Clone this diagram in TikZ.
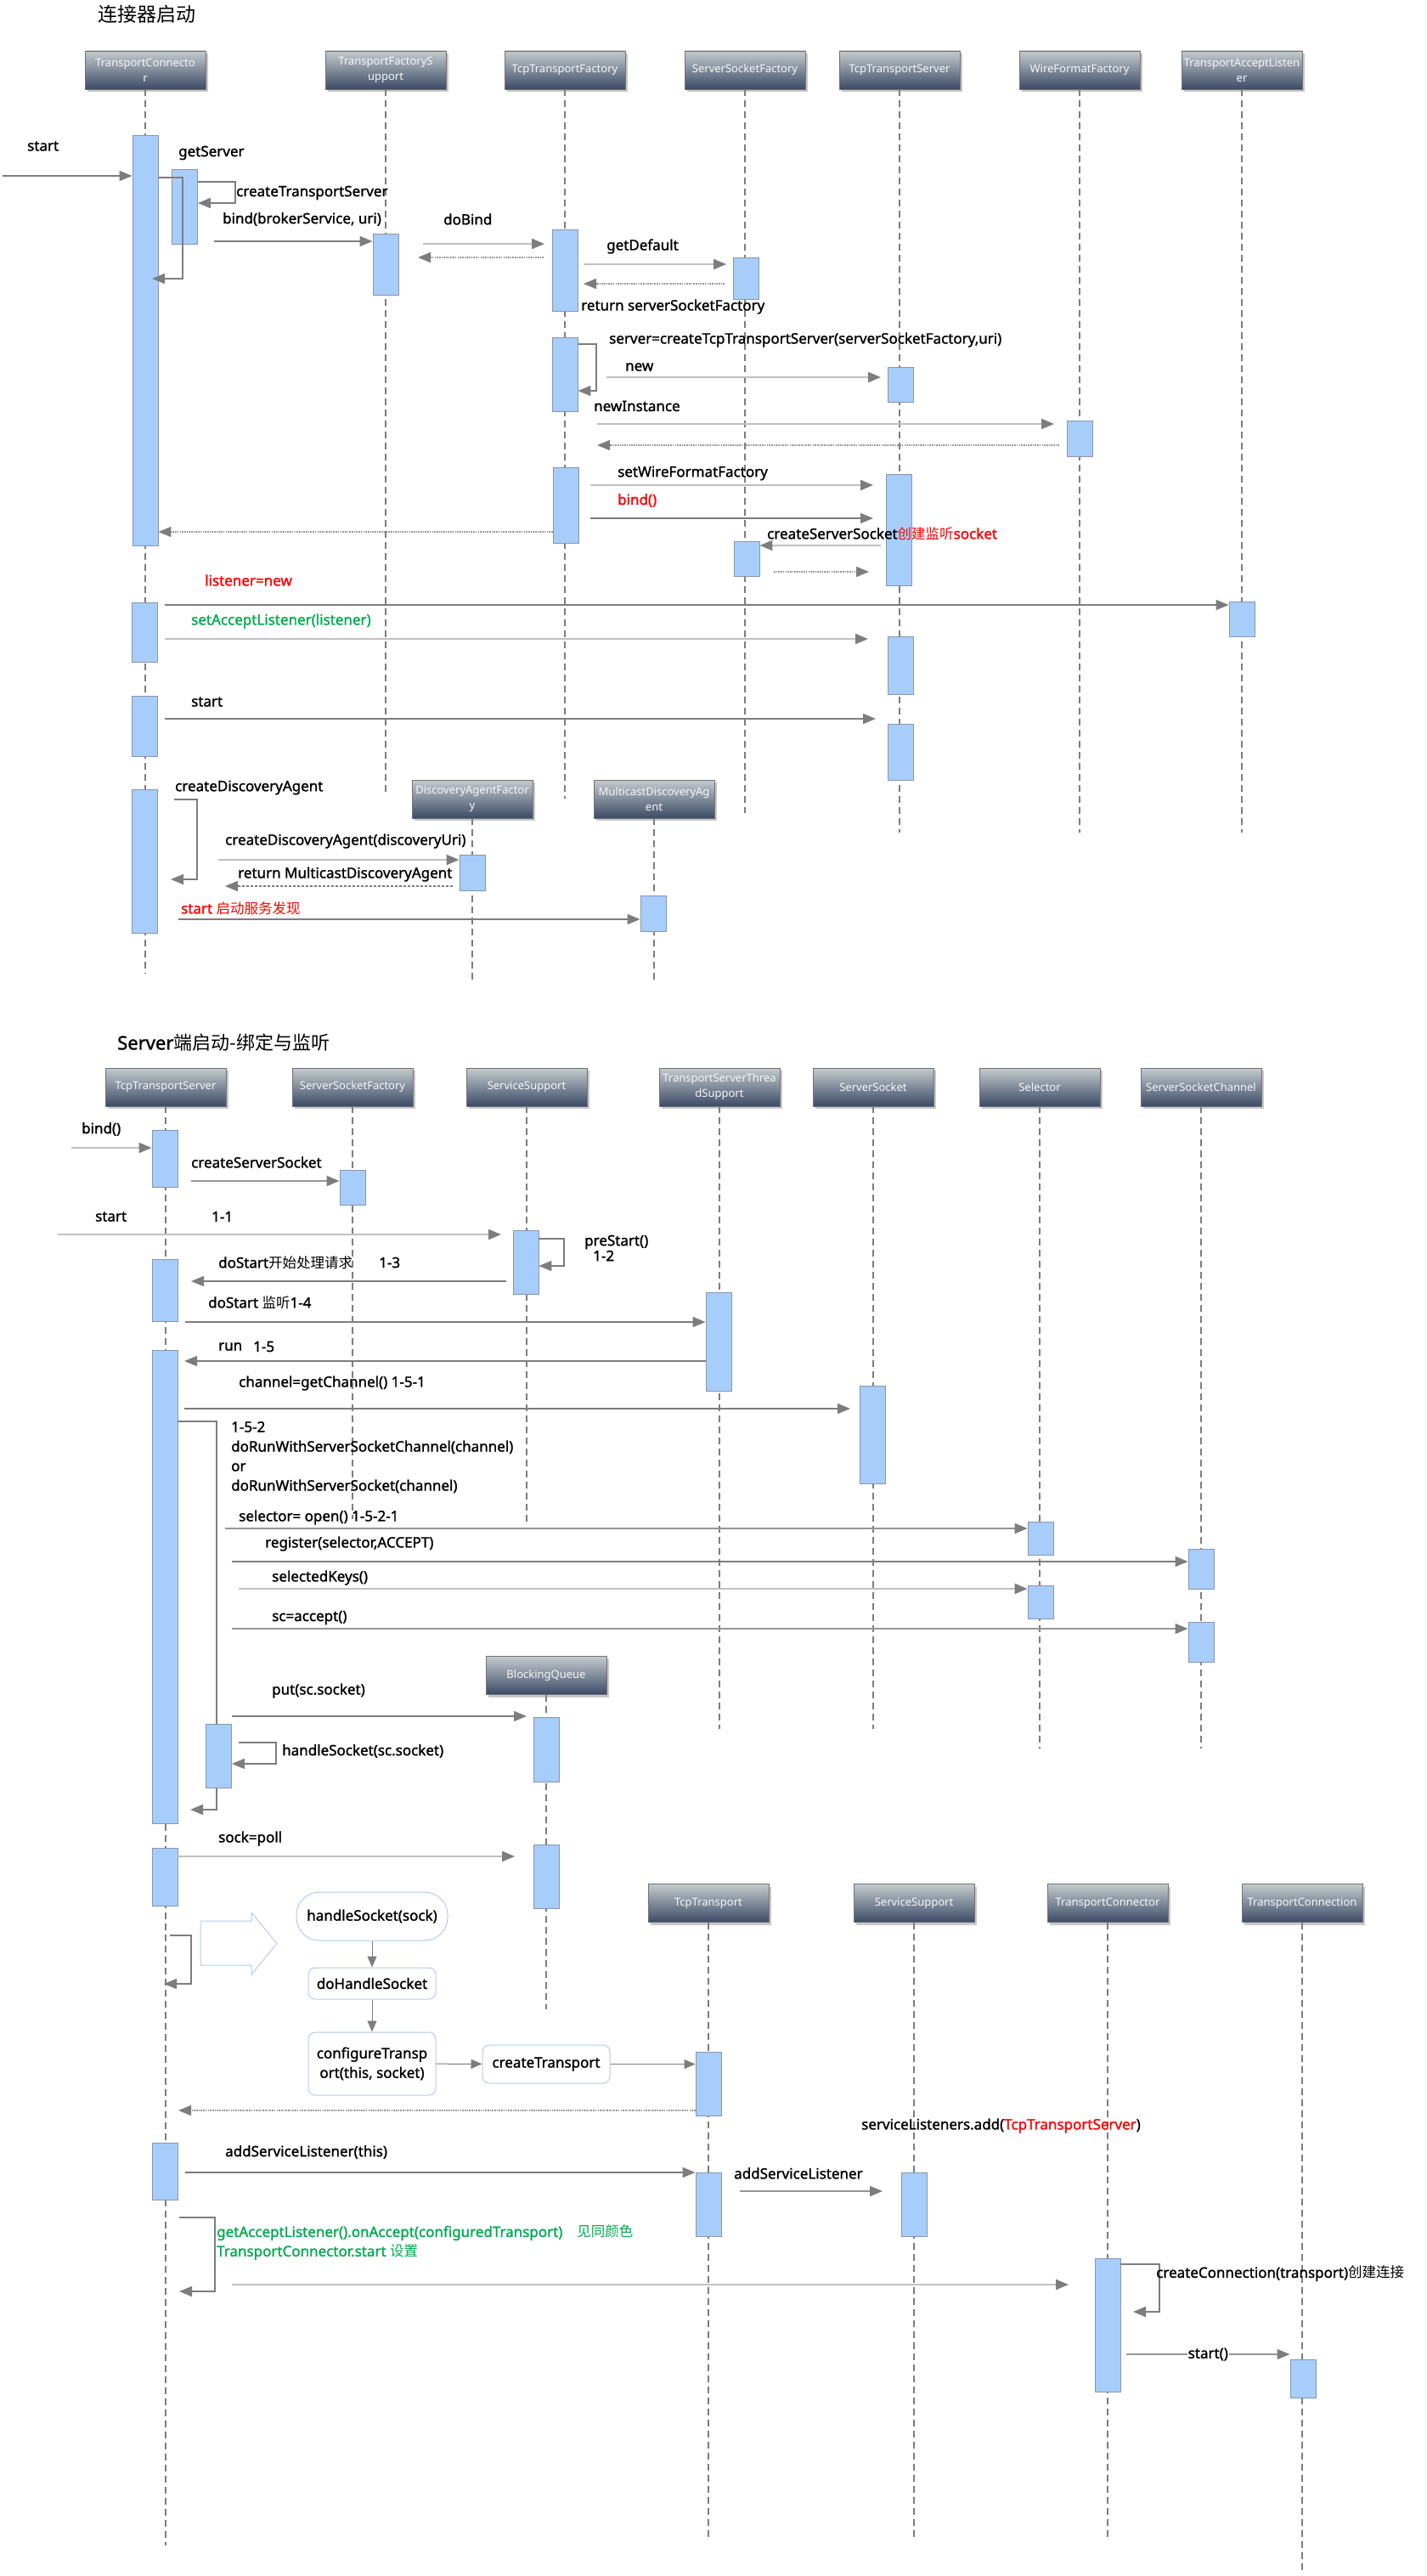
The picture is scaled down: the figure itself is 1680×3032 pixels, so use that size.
\documentclass[tikz,border=0pt]{standalone}
\usepackage{fontspec}
\setmainfont{Noto Sans}
\newfontfamily\lblfont{Noto Sans}[FakeBold=1.4]
\newfontfamily\cjk{Noto Sans CJK SC}
\usetikzlibrary{arrows.meta,shadows}

\definecolor{actfill}{RGB}{167,205,251}
\definecolor{actdraw}{RGB}{138,150,170}
\definecolor{hdtop}{RGB}{196,203,206}
\definecolor{hdbot}{RGB}{60,74,102}
\definecolor{ln}{RGB}{125,125,125}
\definecolor{lnm}{RGB}{150,150,150}
\definecolor{lnl}{RGB}{192,192,192}
\definecolor{flowb}{RGB}{176,204,244}
\definecolor{greent}{RGB}{0,170,80}

\newcommand\zh[1]{{\cjk\fontsize{16.5}{18}\selectfont #1}}
% activation bar: name, centre x, top y, bottom y
\newcommand\actv[4]{\node[actbox,minimum height=#4-#3,anchor=north] (#1) at (#2,#3) {};}

\tikzset{
  hdr/.style={draw=black!55, line width=0.8, top color=hdtop, bottom color=hdbot,
    minimum width=142, minimum height=45, text=white!94!gray, align=center, inner sep=0,
    font=\fontsize{13}{18}\selectfont,
    drop shadow={shadow xshift=3pt,shadow yshift=-3pt,opacity=.3,fill=black!70}},
  life/.style={draw=ln, line width=1.3, dash pattern=on 8pt off 5pt},
  actbox/.style={draw=actdraw, fill=actfill, line width=0.9, minimum width=30, inner sep=0},
  tipg/.style={-{Triangle[length=15pt,width=12pt,color=ln,fill=ln]}},
  msg/.style={draw=ln, line width=1.6, tipg},
  msgm/.style={draw=lnm, line width=1.8, tipg},
  msgl/.style={draw=lnl, line width=2.2, tipg},
  ret/.style={draw=lnm, line width=1.4, dash pattern=on 1.6pt off 1.1pt, tipg},
  retd/.style={draw=ln, line width=1.3, dash pattern=on 3pt off 2pt, tipg},
  lbl/.style={anchor=west, inner sep=0, font=\lblfont\fontsize{17}{20}\selectfont},
  flow/.style={draw=flowb, line width=1, fill=white, rounded corners=8, inner sep=0,
    font=\lblfont\fontsize{17}{23}\selectfont, align=center},
  flowarr/.style={draw=ln, line width=1, -{Triangle[length=13pt,width=11pt,color=ln,fill=ln]}},
}

\begin{document}
\begin{tikzpicture}[x=1pt,y=-1pt]
\fill[white] (0,0) rectangle (1680,3032);
\useasboundingbox (0,0) rectangle (1680,3032);

% ================= connector start-up =================
\node[anchor=west, inner sep=0] (title1) at (115,17) {\cjk\fontsize{23}{26}\selectfont 连接器启动};

\node[hdr] (h1) at (171,82.5) {TransportConnecto\\r};
\node[hdr] (h2) at (454,82.5) {TransportFactoryS\\upport};
\node[hdr] (h3) at (665,82.5) {TcpTransportFactory};
\node[hdr] (h4) at (877,82.5) {ServerSocketFactory};
\node[hdr] (h5) at (1059,82.5) {TcpTransportServer};
\node[hdr] (h6) at (1271,82.5) {WireFormatFactory};
\node[hdr] (h7) at (1462,82.5) {TransportAcceptListen\\er};
\node[hdr] (h8) at (556,940.5) {DiscoveryAgentFactor\\y};
\node[hdr] (h9) at (770,940.5) {MulticastDiscoveryAg\\ent};

\draw[life] (h1.south) -- (h1.south |- 0,1146);
\draw[life] (h2.south) -- (h2.south |- 0,933);
\draw[life] (h3.south) -- (h3.south |- 0,940);
\draw[life] (h4.south) -- (h4.south |- 0,957);
\draw[life] (h5.south) -- (h5.south |- 0,980);
\draw[life] (h6.south) -- (h6.south |- 0,980);
\draw[life] (h7.south) -- (h7.south |- 0,980);
\draw[life] (h8.south) -- (h8.south |- 0,1153);
\draw[life] (h9.south) -- (h9.south |- 0,1153);

\actv{atc1}{171}{159}{642}
\actv{ags}{217.5}{199}{287}
\actv{atfs}{454}{275}{347}
\actv{atcf1}{665}{270}{366}
\actv{assf1}{878}{303}{352}
\actv{atcf2}{665}{397}{484}
\actv{atts1}{1060}{432}{473}
\actv{awff}{1271}{495}{537}
\actv{atcf3}{666}{550}{639}
\actv{atts2}{1058}{558}{689}
\actv{assf2}{879}{637}{678}
\actv{atal}{1462}{708}{749}
\actv{atc2}{170}{709}{779}
\actv{atts3}{1060}{749}{817}
\actv{atc3}{170}{819}{890}
\actv{atts4}{1060}{852}{918}
\actv{atc4}{170}{929}{1098}
\actv{adaf}{556}{1006}{1048}
\actv{amda}{769}{1054}{1096}

\node[lbl] (l1) at (32,172) {start};
\draw[msg] (3,207) -- (atc1.west |- 0,207);
\node[lbl] (l2) at (210,180) {getServer};
\draw[msg] (atc1.east |- 0,209) -- (215,209) -- (215,328) -- (179,328);
\draw[msg] (ags.east |- 0,214) -- (277,214) -- (277,239) -- (ags.east |- 0,239);
\node[lbl] (l3) at (278,227) {createTransportServer};
\node[lbl] (l4) at (262,258) {bind(brokerService, uri)};
\draw[msg] (252,284) -- (atfs.west |- 0,284);
\node[lbl] (l5) at (522,258) {doBind};
\draw[msgl] (498,287) -- (641,287);
\draw[ret] (640,303) -- (492,303);
\node[lbl] (l6) at (714,290) {getDefault};
\draw[msgl] (687,311) -- (855,311);
\draw[ret] (853,334) -- (687,334);
\node[lbl] (l7) at (684,361) {return serverSocketFactory};
\draw[msg] (atcf2.east |- 0,405) -- (702,405) -- (702,460) -- (atcf2.east |- 0,460);
\node[lbl] (l8) at (717,400) {server=createTcpTransportServer(serverSocketFactory,uri)};
\node[lbl] (l9) at (736,432) {new};
\draw[msgl] (714,444) -- (1037,444);
\node[lbl] (l10) at (699,478) {newInstance};
\draw[msgl] (703,499) -- (1241,499);
\draw[ret] (1247,524) -- (703,524);
\node[lbl] (l11) at (727,557) {setWireFormatFactory};
\draw[msgl] (695,571) -- (1028,571);
\node[lbl,text=red] (l12) at (727,589) {bind()};
\draw[msg] (695,610) -- (1028,610);
\node[lbl] (l13) at (903,628) {createServerSocket\textcolor{red}{\zh{创建监听}socket}};
\draw[msgl] (1037,642) -- (assf2.east |- 0,642);
\draw[ret] (911,673) -- (1023,673);
\draw[ret] (atcf3.west |- 0,626) -- (atc1.east |- 0,626);
\node[lbl,text=red] (l14) at (241,683) {listener=new};
\draw[msg] (194,712) -- (atal.west |- 0,712);
\node[lbl,text=greent] (l15) at (225,731) {setAcceptListener(listener)};
\draw[msgl] (194,752) -- (1022,752);
\node[lbl] (l16) at (225,826) {start};
\draw[msg] (194,846) -- (1031,846);
\node[lbl] (l17) at (206,927) {createDiscoveryAgent};
\draw[msg] (205,941) -- (232,941) -- (232,1035) -- (201,1035);
\node[lbl] (l18) at (265,990) {createDiscoveryAgent(discoveryUri)};
\draw[msgl] (257,1012) -- (adaf.west |- 0,1012);
\node[lbl] (l19) at (280,1029) {return MulticastDiscoveryAgent};
\draw[retd] (533,1043) -- (265,1043);
\node[lbl,text=red] (l20) at (213,1069) {start \zh{启动服务发现}};
\draw[msg] (210,1082) -- (amda.west |- 0,1082);

% ================= server side: bind and listen =================
\node[anchor=west, inner sep=0] (title2) at (138,1227)
  {\lblfont\fontsize{22}{26}\selectfont Server\cjk\mdseries 端启动-绑定与监听};

\node[hdr] (k1) at (195,1279.5) {TcpTransportServer};
\node[hdr] (k2) at (415,1279.5) {ServerSocketFactory};
\node[hdr] (k3) at (620,1279.5) {ServiceSupport};
\node[hdr] (k4) at (847,1279.5) {TransportServerThrea\\dSupport};
\node[hdr] (k5) at (1028,1279.5) {ServerSocket};
\node[hdr] (k6) at (1224,1279.5) {Selector};
\node[hdr] (k7) at (1414,1279.5) {ServerSocketChannel};
\node[hdr] (k8) at (643,1972) {BlockingQueue};
\node[hdr] (k9) at (834,2240) {TcpTransport};
\node[hdr] (k10) at (1076,2240) {ServiceSupport};
\node[hdr] (k11) at (1304,2240) {TransportConnector};
\node[hdr] (k12) at (1533,2240) {TransportConnection};

\draw[life] (k1.south) -- (k1.south |- 0,2996);
\draw[life] (k2.south) -- (k2.south |- 0,1788);
\draw[life] (k3.south) -- (k3.south |- 0,1791);
\draw[life] (k4.south) -- (k4.south |- 0,2035);
\draw[life] (k5.south) -- (k5.south |- 0,2035);
\draw[life] (k6.south) -- (k6.south |- 0,2058);
\draw[life] (k7.south) -- (k7.south |- 0,2058);
\draw[life] (k8.south) -- (k8.south |- 0,2365);
\draw[life] (k9.south) -- (k9.south |- 0,2988);
\draw[life] (k10.south) -- (k10.south |- 0,2988);
\draw[life] (k11.south) -- (k11.south |- 0,2988);
\draw[life] (k12.south) -- (k12.south |- 0,3028);

\actv{btts1}{194}{1330}{1397}
\actv{bssf}{415}{1377}{1418}
\actv{bsvc1}{619}{1448}{1523}
\actv{btts2}{194}{1482}{1555}
\actv{btsts}{846}{1521}{1637}
\actv{btts3}{194}{1589}{2146}
\actv{bsock}{1027}{1631}{1746}
\actv{bsel1}{1225}{1791}{1830}
\actv{bssc1}{1414}{1823}{1870}
\actv{bsel2}{1225}{1866}{1905}
\actv{bssc2}{1414}{1909}{1956}
\actv{bbq1}{643}{2021}{2097}
% loop of the accept cycle, partly behind the handleSocket bar
\draw[msg] (btts3.east |- 0,1673) -- (255,1673) -- (255,2130) -- (224,2130);
\actv{bhs}{257.5}{2029}{2104}
\actv{btts4}{194}{2175}{2243}
\actv{bbq2}{643}{2171}{2246}
\actv{btt1}{834}{2415}{2490}
\actv{btts5}{194}{2522}{2589}
\actv{btt2}{834}{2557}{2632}
\actv{bsvc2}{1076}{2557}{2632}
\actv{btc}{1304}{2658}{2815}
\actv{btcn}{1534}{2777}{2822}

\node[lbl] (m1) at (96,1329) {bind()};
\draw[msgl] (84,1351) -- (btts1.west |- 0,1351);
\node[lbl] (m2) at (225,1368) {createServerSocket};
\draw[msgm] (225,1390) -- (bssf.west |- 0,1390);
\node[lbl] (m3) at (112,1432) {start};
\node[lbl] (m3b) at (249,1432) {1-1};
\draw[msgl] (68,1453) -- (590,1453);
\draw[msg] (bsvc1.east |- 0,1458) -- (664,1458) -- (664,1490) -- (bsvc1.east |- 0,1490);
\node[lbl] (m4) at (688,1462) {preStart()};
\node[lbl] (m4b) at (698,1478) {1-2};
\node[lbl] (m5) at (257,1486) {doStart\zh{开始处理请求}};
\node[lbl] (m5b) at (446,1486) {1-3};
\draw[msg] (596,1508) -- (225,1508);
\node[lbl] (m6) at (245,1533) {doStart \zh{监听}1-4};
\draw[msg] (218,1556) -- (btsts.west |- 0,1556);
\node[lbl] (m7) at (257,1585) {run};
\node[lbl] (m7b) at (298,1585) {1-5};
\draw[msg] (btsts.west |- 0,1602) -- (217,1602);
\node[lbl] (m8) at (281,1628) {channel=getChannel() 1-5-1};
\draw[msg] (217,1658) -- (1001,1658);
\node[lbl,align=left,font=\lblfont\fontsize{17}{23}\selectfont,anchor=north west]
  (m9) at (272,1673) {1-5-2\\doRunWithServerSocketChannel(channel)\\or\\doRunWithServerSocket(channel)};
\node[lbl] (m10) at (281,1786) {selector= open() 1-5-2-1};
\draw[msgm] (265,1799) -- (bsel1.west |- 0,1799);
\node[lbl] (m11) at (312,1817) {register(selector,ACCEPT)};
\draw[msg] (273,1838) -- (bssc1.west |- 0,1838);
\node[lbl] (m12) at (320,1857) {selectedKeys()};
\draw[msgl] (281,1870) -- (bsel2.west |- 0,1870);
\node[lbl] (m13) at (320,1904) {sc=accept()};
\draw[msgm] (273,1917) -- (bssc2.west |- 0,1917);
\node[lbl] (m14) at (320,1990) {put(sc.socket)};
\draw[msg] (273,2020) -- (620,2020);
\draw[msg] (281,2051) -- (325,2051) -- (325,2076) -- (bhs.east |- 0,2076);
\node[lbl] (m15) at (332,2061) {handleSocket(sc.socket)};
\node[lbl] (m16) at (257,2164) {sock=poll};
\draw[msgl] (btts4.east |- 0,2185) -- (606,2185);
\draw[msg] (200,2278) -- (225,2278) -- (225,2335) -- (193,2335);

% hollow block arrow pointing at the expanded call chain
\draw[flowb, line width=1] (236,2261) -- (296,2261) -- (296,2251) -- (326,2287.5)
  -- (296,2324) -- (296,2313) -- (236,2313) -- cycle;

\node[flow, rounded corners=27, minimum width=178, minimum height=57] (f1) at (438,2255.5) {handleSocket(sock)};
\node[flow, minimum width=150, minimum height=37] (f2) at (438,2334.5) {doHandleSocket};
\node[flow, minimum width=150, minimum height=74] (f3) at (438,2429) {configureTransp\\ort(this, socket)};
\node[flow, minimum width=150, minimum height=45] (f4) at (643,2429.5) {createTransport};
\draw[flowarr] (f1) -- (f2);
\draw[flowarr] (f2) -- (f3);
\draw[flowarr] (f3) -- (f4);
\draw[flowarr] (f4.east) -- (btt1.west |- f4.east);

\draw[ret] (btt1.west |- 0,2484) -- (210,2484);
\node[lbl] (m17) at (1014,2502) {serviceListeners.add(\textcolor{red}{TcpTransportServer})};
\node[lbl] (m18) at (265,2533) {addServiceListener(this)};
\draw[msg] (218,2557) -- (btt2.west |- 0,2557);
\node[lbl] (m19) at (864,2558) {addServiceListener};
\draw[msgm] (871,2579) -- (1039,2579);
\draw[msg] (211,2610) -- (253,2610) -- (253,2697) -- (211,2697);
\node[lbl,text=greent] (m20) at (255,2628) {getAcceptListener().onAccept(configuredTransport)\quad\zh{见同颜色}};
\node[lbl,text=greent] (m21) at (255,2651) {TransportConnector.start \zh{设置}};
\draw[msgl] (273,2689) -- (1258,2689);
\draw[msg] (btc.east |- 0,2665) -- (1365,2665) -- (1365,2721) -- (1334,2721);
\node[lbl] (m22) at (1361,2676) {createConnection(transport)\zh{创建连接}};
\draw[msgm] (1326,2771) -- node[fill=white, inner sep=1, font=\lblfont\fontsize{17}{20}\selectfont] (m23) {start()} (btcn.west |- 0,2771);

\end{tikzpicture}
\end{document}
